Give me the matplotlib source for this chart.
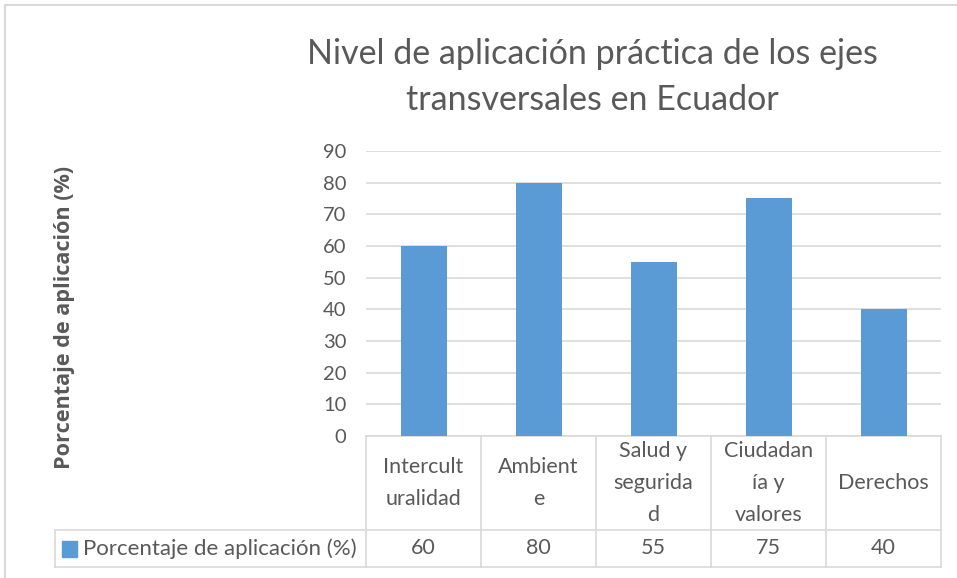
import matplotlib.pyplot as plt
from matplotlib.patches import Rectangle
from matplotlib.lines import Line2D

categorias = ["Intercult\nuralidad", "Ambient\ne", "Salud y\nsegurida\nd", "Ciudadan\nía y\nvalores", "Derechos"]
valores = [60, 80, 55, 75, 40]
serie = "Porcentaje de aplicación (%)"
titulo = "Nivel de aplicación práctica de los ejes\ntransversales en Ecuador"

azul = "#5b9bd5"
gris_txt = "#595959"
gris_lin = "#d9d9d9"

plt.rcParams['font.family'] = ['Lato', 'DejaVu Sans']

fig = plt.figure(figsize=(9.57, 5.78), dpi=100)
W, H = 957, 578
ax = fig.add_axes([366 / W, 1 - 436 / H, 575 / W, 285 / H])

x = range(len(valores))
ax.bar(x, valores, width=0.4, color=azul, zorder=3)
ax.set_xlim(-0.5, len(valores) - 0.5)
ax.set_ylim(0, 90)
ax.set_yticks(range(0, 91, 10))
ax.yaxis.grid(True, color=gris_lin, linewidth=1.2, zorder=0)
ax.tick_params(axis='y', length=0, labelsize=14.5, labelcolor=gris_txt, pad=14)
ax.set_xticks([])
for s in ax.spines.values():
    s.set_visible(False)

# data table under the axis
tr = ax.get_xaxis_transform()
y_top, y_mid, y_bot = 0.0, (436 - 530) / 285, (436 - 567) / 285
x_left = -0.5 - (366 - 55) / 115
kw = dict(transform=tr, color=gris_lin, linewidth=1.2, clip_on=False)
ax.add_line(Line2D([-0.5, 4.5], [y_top, y_top], **kw))
ax.add_line(Line2D([x_left, 4.5], [y_mid, y_mid], **kw))
ax.add_line(Line2D([x_left, 4.5], [y_bot, y_bot], **kw))
ax.add_line(Line2D([x_left, x_left], [y_mid, y_bot], **kw))
for i in range(len(valores) + 1):
    ax.add_line(Line2D([i - 0.5, i - 0.5], [y_top, y_bot], **kw))

for i, (c, v) in enumerate(zip(categorias, valores)):
    ax.text(i, (y_top + y_mid) / 2, c, transform=tr, ha='center', va='center',
            fontsize=15.5, color=gris_txt, linespacing=1.72, clip_on=False)
    ax.text(i, (y_mid + y_bot) / 2, str(v), transform=tr, ha='center', va='center',
            fontsize=15.5, color=gris_txt, clip_on=False)

# legend key in the table
fig.patches.append(Rectangle((62 / W, 1 - 557 / H), 15 / W, 16 / H,
                             transform=fig.transFigure, color=azul))
fig.text(83 / W, 1 - 549 / H, serie, ha='left', va='center', fontsize=16, color=gris_txt)

fig.text(592 / W, 1 - 77 / H, titulo, ha='center', va='center', fontsize=24.5,
         color=gris_txt, linespacing=1.55)
fig.text(65 / W, 1 - 317 / H, serie, ha='center', va='center', rotation=90,
         fontsize=15.6, fontweight='bold', color=gris_txt,
         family=['Open Sans', 'DejaVu Sans'])

# chart border
fig.patches.append(Rectangle((5 / W, -0.1), 1.2, 1 - 5 / H + 0.1, transform=fig.transFigure,
                             fill=False, edgecolor=gris_lin, linewidth=1.5))

fig.savefig("out.png", dpi=100, facecolor='white')
